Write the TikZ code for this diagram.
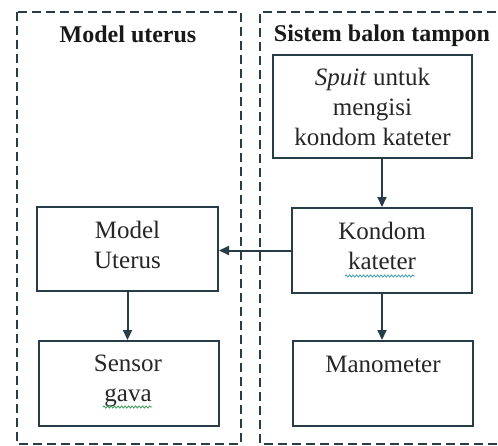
\documentclass[tikz,border=0pt]{standalone}
\usepackage{fontspec}
\setmainfont{Liberation Serif}
\usetikzlibrary{arrows.meta,decorations.pathmorphing}
\definecolor{ink}{HTML}{263C46}
\definecolor{wavyg}{HTML}{3E9A5A}
\definecolor{wavyb}{HTML}{4AA0B0}
\tikzset{
  panel/.style={draw=ink, line width=2pt, dash pattern=on 9pt off 5pt},
  boxnode/.style={draw=ink, line width=2pt, rectangle, inner sep=0pt},
  txt/.style={inner sep=0pt, align=center, text=black!85, font=\fontsize{25}{30}\selectfont},
  ttl/.style={inner sep=0pt, text=black!90, font=\bfseries\fontsize{24}{28}\selectfont},
  conn/.style={draw=ink, line width=2pt, -{Triangle[length=10pt,width=9pt]}},
  wavy/.style={line width=0.9pt, decorate, decoration={snake, amplitude=1pt, segment length=3.5pt}}
}
\begin{document}
\begin{tikzpicture}[x=1pt,y=-1pt]
\useasboundingbox (0,0) rectangle (498,445);
% panels
\draw[panel] (17,12) rectangle (241,444);
\draw[panel] (510,12) -- (260,12) -- (260,444) -- (510,444);
% titles
\node[ttl, anchor=base] (t1) at (128,42) {Model uterus};
\node[ttl, anchor=base] (t2) at (382,41) {Sistem balon tampon};
% boxes
\node[boxnode, minimum width=199pt, minimum height=103pt] (spuit) at (372.5,106.5) {};
\node[boxnode, minimum width=180pt, minimum height=85pt] (kondom) at (382,250.5) {};
\node[boxnode, minimum width=180pt, minimum height=85pt] (mano) at (383,383.5) {};
\node[boxnode, minimum width=181pt, minimum height=84pt] (model) at (127.5,249) {};
\node[boxnode, minimum width=180pt, minimum height=85pt] (sensor) at (129,383.5) {};
% texts
\node[txt, anchor=north] (spuittxt) at (372.5,68) {\textit{Spuit} untuk\\mengisi\\kondom kateter};
\node[txt, anchor=north] (kondomtxt) at (382,222) {Kondom\\kateter};
\node[txt, anchor=base] (manotxt) at (383,372) {Manometer};
\node[txt, anchor=north] (modeltxt) at (127.5,221) {Model\\Uterus};
\node[txt, anchor=north] (sensortxt) at (128,355) {Sensor\\gava};
% spell-check underlines
\coordinate (w1a) at (345,276);
\coordinate (w1b) at (415,276);
\coordinate (w2a) at (103,407);
\coordinate (w2b) at (152,407);
\draw[wavy, wavyb] (w1a) -- (w1b);
\draw[wavy, wavyg] (w2a) -- (w2b);
% connectors
\draw[conn] (kondom.north |- spuit.south) -- (kondom.north);
\draw[conn] (kondom.south) -- (kondom.south |- mano.north);
\draw[conn] (kondom.west) -- (model.east |- kondom.west);
\draw[conn] (model.south) -- (model.south |- sensor.north);
\end{tikzpicture}
\end{document}
